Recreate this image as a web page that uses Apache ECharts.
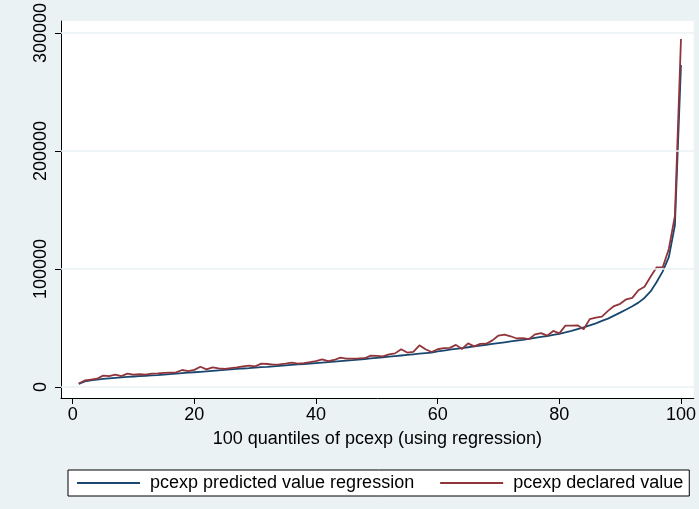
<!DOCTYPE html>
<html>
<head>
<meta charset="utf-8">
<title>pcexp quantiles</title>
<script src="https://cdn.jsdelivr.net/npm/echarts@6/dist/echarts.min.js"></script>
<style>
  html, body { margin: 0; padding: 0; background: #eaf2f3; }
  #chart { width: 699px; height: 509px; }
</style>
</head>
<body>
<div id="chart"></div>
<script>
// Quantile index 1..100
const quantiles = Array.from({ length: 100 }, (_, i) => i + 1);

// Mean predicted per-capita expenditure in each quantile (regression)
const predictedValues = [
  2600, 4800, 5600, 6200, 6800, 7300, 7700, 8100, 8500, 8900,
  9200, 9500, 9800, 10100, 10500, 10900, 11300, 11700, 12100, 12500,
  12900, 13300, 13700, 14100, 14500, 14900, 15300, 15700, 16000, 16400,
  16800, 17100, 17500, 17900, 18300, 18700, 19100, 19500, 19900, 20300,
  20700, 21100, 21500, 21900, 22300, 22700, 23200, 23700, 24200, 24700,
  25200, 25700, 26200, 26700, 27200, 27700, 28200, 28700, 29200, 30200,
  30900, 31600, 32300, 33000, 33700, 34400, 35100, 35800, 36500, 37200,
  37900, 38600, 39300, 40000, 40800, 41600, 42400, 43200, 44100, 45000,
  46200, 47500, 49000, 50500, 52200, 54000, 56000, 58000, 60500, 63000,
  65700, 68500, 71500, 75500, 81000, 89000, 98000, 110000, 137000, 273000
];

// Mean declared per-capita expenditure in each quantile
const declaredValues = [
  3000, 5500, 6300, 7000, 9600, 9300, 10500, 9200, 11300, 10500,
  10800, 10500, 11300, 11600, 12000, 12200, 12400, 14400, 13500, 14500,
  17200, 15000, 16700, 15800, 15300, 16000, 16700, 17500, 18100, 17500,
  19800, 19500, 18900, 19200, 19800, 20600, 19800, 20300, 21000, 22000,
  23400, 22000, 22900, 24900, 24000, 24100, 24200, 24400, 26600, 26300,
  26000, 27700, 28500, 32000, 29200, 29700, 35300, 32000, 29700, 32000,
  33000, 33200, 35700, 32200, 37000, 34400, 36500, 36700, 39500, 43600,
  44400, 43000, 41100, 41400, 40500, 44600, 45700, 43500, 47500, 45500,
  52000, 52000, 52300, 48900, 57500, 58800, 59600, 64500, 68600, 70500,
  74300, 75500, 82000, 85000, 93500, 101400, 101500, 117000, 145000, 295000
];

// Axis ticks
const xTicks = [0, 20, 40, 60, 80, 100];
const yTicks = [0, 100000, 200000, 300000];

const seriesNames = ['pcexp predicted value regression', 'pcexp declared value'];
const axisTitle = '100 quantiles of pcexp (using regression)';

const FONT = 'Liberation Sans, Arial, Helvetica, sans-serif';
const FONT_SIZE = 18;
const NAVY = '#1a476f';
const MAROON = '#90353b';
const GRID_BG = '#eaf2f3';

const chart = echarts.init(document.getElementById('chart'), null, { renderer: 'canvas' });

const zip = (xs, ys) => xs.map((x, i) => [x, ys[i]]);

chart.setOption({
  animation: false,
  backgroundColor: GRID_BG,
  textStyle: { fontFamily: FONT },
  grid: {
    left: 61, top: 21, right: 5, bottom: 111,
    show: true, backgroundColor: '#ffffff', borderWidth: 0
  },
  xAxis: {
    type: 'value',
    min: -1.92, max: 102.1,
    axisLine: { show: true, onZero: false, lineStyle: { color: '#000', width: 1 } },
    axisTick: { show: true, customValues: xTicks, length: 6, lineStyle: { color: '#000' } },
    axisLabel: { customValues: xTicks, color: '#000', fontSize: FONT_SIZE, margin: 8, fontFamily: FONT },
    splitLine: { show: false },
    name: axisTitle,
    nameLocation: 'middle',
    nameGap: 32,
    nameTextStyle: { color: '#000', fontSize: FONT_SIZE, fontFamily: FONT, verticalAlign: 'top' }
  },
  yAxis: {
    type: 'value',
    min: -9322, max: 310170,
    axisLine: { show: true, onZero: false, lineStyle: { color: '#000', width: 1 } },
    axisTick: { show: true, customValues: yTicks, length: 6, lineStyle: { color: '#000' } },
    axisLabel: {
      customValues: yTicks, color: '#000', fontSize: FONT_SIZE, rotate: 90, margin: 11,
      fontFamily: FONT, formatter: v => String(v)
    },
    splitLine: { show: false }
  },
  legend: {
    left: 68, top: 470,
    orient: 'horizontal',
    data: seriesNames,
    icon: 'rect',
    itemWidth: 63, itemHeight: 2,
    itemGap: 26,
    padding: [4, 6, 4, 9],
    borderColor: '#000', borderWidth: 1,
    backgroundColor: '#fff',
    borderRadius: 0,
    textStyle: { color: '#000', fontSize: FONT_SIZE, fontFamily: FONT, padding: [0, 0, 0, 5] }
  },
  series: [
    {
      // horizontal grid lines at the y tick values
      name: 'grid',
      type: 'line',
      data: [],
      silent: true,
      z: 1,
      markLine: {
        silent: true,
        symbol: 'none',
        label: { show: false },
        lineStyle: { color: GRID_BG, width: 1.5, type: 'solid' },
        data: yTicks.map(v => ({ yAxis: v }))
      }
    },
    {
      name: seriesNames[0],
      type: 'line',
      data: zip(quantiles, predictedValues),
      symbol: 'none',
      z: 3,
      itemStyle: { color: NAVY },
      lineStyle: { color: NAVY, width: 1.8 }
    },
    {
      name: seriesNames[1],
      type: 'line',
      data: zip(quantiles, declaredValues),
      symbol: 'none',
      z: 4,
      itemStyle: { color: MAROON },
      lineStyle: { color: MAROON, width: 1.8 }
    }
  ]
});
</script>
</body>
</html>
